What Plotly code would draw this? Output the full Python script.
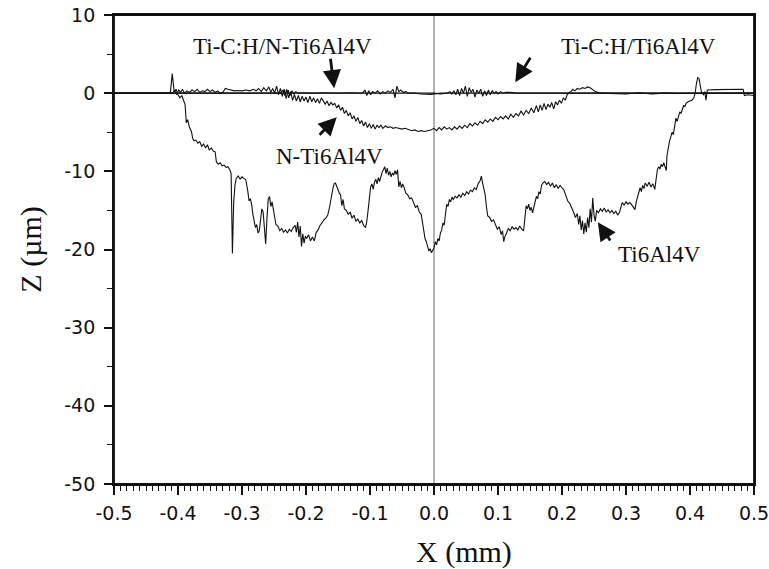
import plotly.graph_objects as go

# Scratch-track depth profiles, X in mm, Z in micrometres
ti_x = [-0.500, -0.412, -0.409, -0.406, -0.403, -0.400, -0.397, -0.394, -0.391, -0.389,
        -0.387, -0.385, -0.382, -0.379, -0.377, -0.375, -0.372, -0.369, -0.366, -0.363,
        -0.360, -0.357, -0.354, -0.351, -0.348, -0.345, -0.342, -0.340, -0.337, -0.334,
        -0.331, -0.328, -0.325, -0.322, -0.319, -0.317, -0.315, -0.313, -0.311, -0.309,
        -0.306, -0.303, -0.300, -0.297, -0.294, -0.291, -0.289, -0.287, -0.285, -0.283,
        -0.281, -0.279, -0.277, -0.275, -0.273, -0.271, -0.269, -0.267, -0.265, -0.263,
        -0.261, -0.259, -0.257, -0.255, -0.253, -0.251, -0.249, -0.247, -0.244, -0.241,
        -0.238, -0.235, -0.232, -0.229, -0.226, -0.223, -0.220, -0.217, -0.215, -0.213,
        -0.211, -0.209, -0.207, -0.205, -0.203, -0.201, -0.199, -0.196, -0.193, -0.190,
        -0.187, -0.184, -0.181, -0.178, -0.175, -0.172, -0.169, -0.166, -0.163, -0.160,
        -0.158, -0.156, -0.154, -0.152, -0.150, -0.148, -0.146, -0.144, -0.142, -0.140,
        -0.137, -0.134, -0.131, -0.128, -0.125, -0.122, -0.119, -0.116, -0.113, -0.110,
        -0.107, -0.105, -0.103, -0.101, -0.099, -0.097, -0.095, -0.093, -0.091, -0.089,
        -0.087, -0.085, -0.083, -0.081, -0.079, -0.077, -0.075, -0.073, -0.071, -0.069,
        -0.067, -0.065, -0.063, -0.061, -0.059, -0.057, -0.055, -0.053, -0.051, -0.049,
        -0.047, -0.044, -0.041, -0.038, -0.035, -0.032, -0.029, -0.026, -0.023, -0.020,
        -0.018, -0.016, -0.014, -0.012, -0.010, -0.008, -0.006, -0.004, -0.002, 0.000,
        0.002, 0.004, 0.006, 0.008, 0.010, 0.012, 0.014, 0.016, 0.018, 0.020,
        0.022, 0.024, 0.026, 0.028, 0.030, 0.033, 0.036, 0.039, 0.042, 0.045,
        0.048, 0.051, 0.054, 0.057, 0.060, 0.063, 0.066, 0.069, 0.072, 0.074,
        0.076, 0.078, 0.080, 0.082, 0.084, 0.087, 0.090, 0.093, 0.096, 0.099,
        0.102, 0.105, 0.107, 0.109, 0.111, 0.113, 0.116, 0.119, 0.122, 0.125,
        0.128, 0.131, 0.134, 0.137, 0.140, 0.142, 0.144, 0.146, 0.148, 0.150,
        0.152, 0.154, 0.156, 0.158, 0.160, 0.162, 0.164, 0.166, 0.168, 0.170,
        0.173, 0.176, 0.179, 0.182, 0.185, 0.188, 0.191, 0.194, 0.197, 0.200,
        0.203, 0.206, 0.209, 0.212, 0.215, 0.218, 0.221, 0.224, 0.226, 0.228,
        0.230, 0.232, 0.234, 0.236, 0.238, 0.240, 0.242, 0.244, 0.246, 0.248,
        0.250, 0.252, 0.254, 0.257, 0.260, 0.263, 0.266, 0.269, 0.272, 0.275,
        0.278, 0.281, 0.284, 0.287, 0.290, 0.292, 0.294, 0.297, 0.300, 0.303,
        0.306, 0.309, 0.312, 0.314, 0.316, 0.318, 0.320, 0.322, 0.324, 0.326,
        0.328, 0.330, 0.333, 0.336, 0.339, 0.342, 0.345, 0.347, 0.349, 0.351,
        0.353, 0.355, 0.357, 0.359, 0.361, 0.363, 0.364, 0.366, 0.368, 0.370,
        0.372, 0.374, 0.376, 0.378, 0.380, 0.382, 0.384, 0.386, 0.388, 0.390,
        0.392, 0.394, 0.397, 0.400, 0.403, 0.406, 0.408, 0.410, 0.412, 0.414,
        0.416, 0.418, 0.421, 0.423, 0.425, 0.427, 0.440, 0.460, 0.483, 0.485,
        0.490, 0.500]
ti_z = [0.0, 0.0, 2.5, 0.2, 0.5, -0.2, -0.6, -0.3, -1.0, -1.4,
        -3.8, -3.4, -4.4, -4.9, -5.8, -6.1, -6.0, -6.4, -6.2, -6.8,
        -6.5, -7.0, -6.6, -7.3, -7.0, -7.4, -7.5, -8.8, -9.1, -8.9,
        -9.3, -9.2, -9.5, -9.4, -9.8, -10.3, -20.5, -14.0, -11.8, -10.9,
        -10.6, -11.0, -10.7, -10.9, -11.1, -12.5, -13.8, -13.5, -14.2, -15.5,
        -16.3, -17.2, -16.8, -17.9, -17.6, -16.0, -14.8, -15.2, -17.5, -19.3,
        -16.0, -13.6, -13.2, -14.5, -13.9, -15.0, -16.1, -16.8, -17.0, -17.6,
        -17.3, -17.8, -17.5, -17.9, -17.4, -17.7, -17.2, -16.9, -17.8, -16.5,
        -18.4, -17.0, -19.6, -18.0, -19.2, -18.3, -18.6, -18.1, -18.9, -18.4,
        -18.9, -17.8, -17.5, -16.9, -16.6, -16.2, -16.0, -15.6, -14.5, -13.0,
        -12.2, -11.6, -11.5, -11.9, -12.4, -12.8, -13.0, -14.4, -13.6, -14.8,
        -15.0, -15.5, -15.2, -16.0, -15.6, -16.4, -16.1, -16.6, -16.3, -16.9,
        -17.2, -16.4, -15.0, -13.2, -12.0, -11.6, -12.3, -11.4, -11.0, -11.6,
        -10.8, -11.3, -10.6, -10.1, -9.8, -9.4, -10.3, -9.6, -10.5, -10.0,
        -10.7, -10.2, -10.5, -9.9, -10.4, -9.8, -12.0, -11.3, -12.1, -11.6,
        -12.0, -12.8, -13.0, -13.5, -13.4, -14.1, -14.6, -14.4, -15.2, -15.5,
        -16.5, -17.4, -18.6, -19.0, -19.8, -20.2, -19.9, -20.4, -20.1, -19.8,
        -19.0, -19.4, -18.6, -18.9, -17.9, -17.5, -16.6, -16.9, -15.4, -14.2,
        -14.5, -13.6, -13.9, -13.3, -13.6, -13.2, -13.4, -13.0, -13.3, -12.8,
        -13.1, -12.6, -12.9, -12.4, -12.6, -12.1, -12.3, -11.6, -11.2, -10.6,
        -11.5, -12.1, -13.0, -14.6, -15.7, -15.9, -16.4, -16.2, -16.8, -17.4,
        -17.1, -18.1, -17.6, -19.0, -18.3, -18.0, -17.3, -17.6, -17.1, -17.4,
        -17.2, -17.5, -17.0, -17.4, -17.6, -16.0, -14.4, -14.8, -14.2, -15.0,
        -14.6, -15.3, -14.5, -13.8, -13.2, -13.5, -12.6, -12.9, -11.8, -11.5,
        -11.3, -11.7, -11.4, -11.9, -11.5, -12.1, -11.7, -12.2, -11.8, -12.1,
        -12.4, -13.1, -13.8, -14.1, -14.6, -15.2, -15.9, -15.4, -16.8, -15.7,
        -17.5, -16.3, -18.0, -16.6, -17.8, -15.9, -17.2, -14.8, -16.5, -13.4,
        -15.6, -16.4, -15.0, -15.3, -14.8, -15.1, -14.7, -15.2, -14.9, -15.3,
        -15.0, -15.4, -15.1, -15.6, -15.2, -14.4, -14.0, -14.3, -13.9, -14.2,
        -14.0, -14.3, -14.6, -14.9, -13.9, -13.2, -12.5, -12.1, -12.6, -11.8,
        -12.2, -11.5, -11.9, -11.4, -12.0, -11.6, -12.3, -11.0, -9.8, -9.4,
        -9.7, -9.1, -9.4, -8.9, -9.5, -9.9, -8.0, -6.9, -6.1, -5.6,
        -5.0, -5.3, -4.0, -3.2, -3.6, -2.9, -2.4, -2.6, -1.9, -1.6,
        -1.7, -1.3, -1.1, -1.0, -0.9, -0.6, 0.0, 1.2, 2.0, 1.9,
        1.0, 0.1, -0.2, 0.2, -0.9, 0.4, 0.45, 0.5, 0.5, -0.3,
        -0.2, -0.3]

n_x = [-0.500, -0.240, -0.236, -0.233, -0.230, -0.227, -0.224, -0.221, -0.218, -0.215,
       -0.212, -0.209, -0.206, -0.203, -0.200, -0.197, -0.194, -0.191, -0.188, -0.185,
       -0.182, -0.179, -0.176, -0.173, -0.170, -0.167, -0.164, -0.161, -0.158, -0.155,
       -0.152, -0.149, -0.146, -0.143, -0.140, -0.137, -0.134, -0.131, -0.128, -0.125,
       -0.122, -0.119, -0.116, -0.113, -0.110, -0.107, -0.104, -0.101, -0.098, -0.095,
       -0.092, -0.089, -0.086, -0.083, -0.080, -0.076, -0.072, -0.068, -0.064, -0.060,
       -0.055, -0.050, -0.045, -0.040, -0.035, -0.030, -0.025, -0.020, -0.015, -0.010,
       -0.005, 0.000, 0.004, 0.008, 0.012, 0.016, 0.020, 0.024, 0.028, 0.032,
       0.036, 0.040, 0.044, 0.048, 0.052, 0.056, 0.060, 0.064, 0.068, 0.072,
       0.076, 0.080, 0.084, 0.088, 0.092, 0.096, 0.100, 0.104, 0.108, 0.112,
       0.116, 0.120, 0.124, 0.128, 0.132, 0.136, 0.140, 0.144, 0.148, 0.152,
       0.156, 0.160, 0.163, 0.166, 0.169, 0.172, 0.175, 0.178, 0.181, 0.184,
       0.187, 0.190, 0.193, 0.196, 0.199, 0.202, 0.205, 0.208, 0.211, 0.214,
       0.217, 0.220, 0.224, 0.228, 0.232, 0.236, 0.240, 0.244, 0.248, 0.252,
       0.256, 0.262, 0.300, 0.320, 0.340, 0.360, 0.380, 0.500]
n_z = [0.0, 0.0, 0.4, -0.3, 0.5, -0.6, 0.2, -0.9, -0.2, -1.0,
       -0.3, -1.1, -0.4, -1.0, -0.5, -1.2, -0.4, -1.1, -0.6, -1.2,
       -0.7, -1.3, -0.6, -1.1, -1.4, -1.0, -1.6, -1.2, -1.5, -1.3,
       -1.9, -1.5, -2.2, -1.8, -2.6, -2.2, -2.9, -2.5, -3.3, -2.9,
       -3.6, -3.1, -3.9, -3.5, -4.2, -3.7, -4.4, -3.9, -4.5, -4.0,
       -4.6, -4.1, -4.4, -4.1, -4.5, -4.2, -4.4, -4.3, -4.5, -4.4,
       -4.5, -4.6, -4.5, -4.7, -4.8, -4.7, -4.9, -4.8, -4.9, -4.8,
       -4.7, -4.5, -4.8, -4.4, -4.7, -4.3, -4.6, -4.4, -4.7, -4.3,
       -4.6, -4.2, -4.5, -4.1, -4.4, -3.9, -4.2, -3.8, -4.1, -3.6,
       -3.9, -3.4, -3.7, -3.3, -3.6, -3.1, -3.4, -3.0, -3.3, -2.9,
       -3.3, -2.7, -3.1, -2.6, -2.9, -2.3, -2.8, -2.2, -2.6, -1.9,
       -2.5, -1.6, -2.4, -1.5, -2.2, -1.3, -2.1, -1.4, -1.8, -1.2,
       -2.0, -1.1, -1.5, -0.9, -1.3, -0.6, -0.9, -0.2, 0.1, 0.2,
       0.5, 0.3, 0.6, 0.5, 0.7, 0.6, 0.8, 0.7, 0.4, 0.2,
       0.1, 0.0, -0.1, 0.05, -0.1, 0.0, -0.05, 0.0]

tcn_x = [-0.500, -0.410, -0.405, -0.402, -0.399, -0.396, -0.393, -0.390, -0.386, -0.382,
         -0.378, -0.374, -0.370, -0.366, -0.362, -0.358, -0.354, -0.350, -0.346, -0.342,
         -0.338, -0.334, -0.330, -0.326, -0.322, -0.318, -0.312, -0.306, -0.300, -0.294,
         -0.288, -0.282, -0.278, -0.274, -0.270, -0.266, -0.262, -0.258, -0.255, -0.252,
         -0.249, -0.246, -0.243, -0.240, -0.237, -0.234, -0.231, -0.228, -0.225, -0.222,
         -0.219, -0.216, -0.212, -0.205, -0.190, -0.170, -0.150, -0.130, -0.112, -0.108,
         -0.105, -0.102, -0.099, -0.096, -0.092, -0.088, -0.084, -0.080, -0.076, -0.072,
         -0.068, -0.064, -0.061, -0.058, -0.055, -0.052, -0.048, -0.044, -0.040, -0.030,
         -0.020, -0.005, 0.010, 0.500]
tcn_z = [0.0, 0.0, 0.3, -0.2, 0.4, 0.1, 0.5, 0.0, 0.3, 0.1,
         0.4, 0.2, 0.5, 0.1, 0.3, 0.2, 0.5, 0.2, 0.4, 0.1,
         0.3, 0.0, 0.1, 0.6, 0.5, 0.4, 0.3, 0.35, 0.3, 0.4,
         0.3, 0.5, 0.3, 0.6, 0.2, 0.7, 0.3, 0.8, 0.1, 0.6,
         0.0, 0.9, -0.2, 0.6, -0.4, 0.5, -0.7, 0.4, -0.3, 0.3,
         -0.1, 0.2, 0.0, 0.05, 0.0, 0.05, 0.0, 0.05, 0.0, 0.4,
         -0.3, 0.3, -0.2, 0.2, 0.0, 0.3, -0.1, 0.2, 0.0, 0.3,
         0.1, 0.5, -0.6, 0.9, 0.2, 0.4, 0.1, 0.2, 0.0, 0.0,
         -0.1, -0.15, 0.0, 0.0]

tc_x = [-0.500, 0.000, 0.010, 0.020, 0.025, 0.028, 0.031, 0.034, 0.037, 0.040,
        0.043, 0.046, 0.049, 0.052, 0.055, 0.058, 0.061, 0.064, 0.067, 0.070,
        0.073, 0.076, 0.079, 0.082, 0.085, 0.088, 0.091, 0.094, 0.097, 0.100,
        0.104, 0.108, 0.112, 0.120, 0.130, 0.150, 0.500]
tc_z = [0.0, 0.0, -0.1, 0.0, 0.2, -0.1, 0.3, -0.2, 0.5, -0.3,
        0.6, 0.0, 0.9, -0.4, 0.7, 0.1, 0.5, -0.5, 0.4, 0.0,
        0.5, -0.4, 0.3, -0.3, 0.4, -0.2, 0.3, 0.0, 0.2, -0.1,
        0.2, 0.0, 0.1, 0.1, 0.0, 0.0, 0.0]

x_ticks = [-0.5, -0.4, -0.3, -0.2, -0.1, 0.0, 0.1, 0.2, 0.3, 0.4, 0.5]
x_tick_text = ["-0.5", "-0.4", "-0.3", "-0.2", "-0.1", "0.0", "0.1", "0.2", "0.3", "0.4", "0.5"]
y_ticks = [10, 0, -10, -20, -30, -40, -50]
y_tick_text = ["10", "0", "-10", "-20", "-30", "-40", "-50"]

fig = go.Figure()
for xs, zs, name in [(ti_x, ti_z, "Ti6Al4V"), (n_x, n_z, "N-Ti6Al4V"),
                     (tcn_x, tcn_z, "Ti-C:H/N-Ti6Al4V"), (tc_x, tc_z, "Ti-C:H/Ti6Al4V")]:
    fig.add_trace(go.Scatter(x=xs, y=zs, mode="lines", name=name,
                             line=dict(color="#111111", width=1.1)))

# thin vertical reference line at X = 0
fig.add_shape(type="line", x0=0, x1=0, y0=-50, y1=10, xref="x", yref="y",
              line=dict(color="#666666", width=1), layer="below")
# closed frame around the plotting area
fig.add_shape(type="rect", x0=0, x1=1, y0=0, y1=1, xref="paper", yref="paper",
              line=dict(color="#111111", width=1.8), fillcolor="rgba(0,0,0,0)",
              layer="above")

label_font = dict(family="Liberation Serif, Times New Roman, serif", size=23, color="#111111")
labels = [("Ti-C:H/N-Ti6Al4V", -0.236, 6.0), ("Ti-C:H/Ti6Al4V", 0.319, 6.0),
          ("N-Ti6Al4V", -0.163, -8.06), ("Ti6Al4V", 0.352, -20.6)]
for txt, lx, ly in labels:
    fig.add_annotation(x=lx, y=ly, text=txt, showarrow=False, font=label_font,
                       xanchor="center", yanchor="middle")

arrows = [(-0.162, 4.6, -0.156, 0.64), (0.152, 4.73, 0.127, 1.41),
          (-0.181, -5.5, -0.152, -3.07), (0.277, -19.05, 0.256, -16.5)]
for tx, ty, hx, hy in arrows:
    fig.add_annotation(x=hx, y=hy, ax=tx, ay=ty, xref="x", yref="y", axref="x", ayref="y",
                       text="", showarrow=True, arrowhead=2, arrowsize=1.3,
                       arrowwidth=2.8, arrowcolor="#111111")

title_font = dict(family="Liberation Serif, Times New Roman, serif", size=30, color="#111111")
fig.add_annotation(text="X (mm)", xref="paper", yref="paper", x=0.547, y=-0.145,
                   showarrow=False, font=title_font, xanchor="center", yanchor="middle")
fig.add_annotation(text="Z (µm)", xref="paper", yref="paper", x=-0.131, y=0.5,
                   showarrow=False, font=title_font, textangle=-90,
                   xanchor="center", yanchor="middle")

tick_font = dict(family="DejaVu Sans, Verdana, sans-serif", size=19, color="#111111")
fig.update_xaxes(range=[-0.5, 0.5], tickvals=x_ticks, ticktext=x_tick_text,
                 ticks="outside", ticklen=9, tickwidth=1.5, tickcolor="#111111",
                 minor=dict(dtick=0.01, tick0=0, ticks="outside", ticklen=5,
                            tickwidth=1, tickcolor="#111111"),
                 showline=True, linewidth=1.8, linecolor="#111111", mirror=True,
                 showgrid=False, zeroline=False, tickfont=tick_font,
                 ticklabelstandoff=2, automargin=False, ticklabeloverflow="allow")
fig.update_yaxes(range=[-50, 10], tickvals=y_ticks, ticktext=y_tick_text,
                 ticks="outside", ticklen=8, tickwidth=1.5, tickcolor="#111111",
                 minor=dict(dtick=5, tick0=0, ticks="outside", ticklen=5,
                            tickwidth=1, tickcolor="#111111"),
                 showline=True, linewidth=1.8, linecolor="#111111", mirror=True,
                 showgrid=False, zeroline=False, tickfont=tick_font,
                 ticklabelstandoff=5, automargin=False, ticklabeloverflow="allow")

fig.update_layout(width=769, height=569, margin=dict(l=114, r=15, t=15, b=85),
                  paper_bgcolor="white", plot_bgcolor="white", showlegend=False)

fig.write_html("out.html")
